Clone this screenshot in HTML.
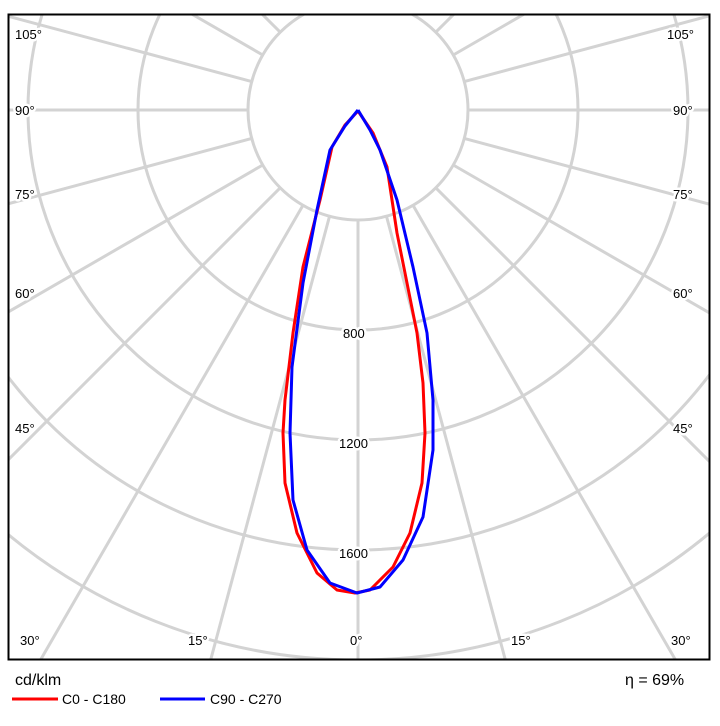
<!DOCTYPE html>
<html><head><meta charset="utf-8"><style>
html,body{margin:0;padding:0;background:#fff;width:720px;height:726px;overflow:hidden}
svg{display:block}
text{font-family:"Liberation Sans",sans-serif}
</style></head><body>
<svg width="720" height="726" viewBox="0 0 720 726" xmlns="http://www.w3.org/2000/svg">
<defs><clipPath id="c"><rect x="9" y="15" width="700" height="644"/></clipPath></defs>
<g clip-path="url(#c)" stroke="#d3d3d3" stroke-width="3" fill="none">
<circle cx="358" cy="110" r="110"/>
<circle cx="358" cy="110" r="220"/>
<circle cx="358" cy="110" r="330"/>
<circle cx="358" cy="110" r="440"/>
<circle cx="358" cy="110" r="550"/>
<circle cx="358" cy="110" r="660"/>
<line x1="358" y1="220" x2="358" y2="900"/>
<line x1="358" y1="220" x2="358" y2="900" transform="rotate(15 358 110)"/>
<line x1="358" y1="220" x2="358" y2="900" transform="rotate(30 358 110)"/>
<line x1="358" y1="220" x2="358" y2="900" transform="rotate(45 358 110)"/>
<line x1="358" y1="220" x2="358" y2="900" transform="rotate(60 358 110)"/>
<line x1="358" y1="220" x2="358" y2="900" transform="rotate(75 358 110)"/>
<line x1="358" y1="220" x2="358" y2="900" transform="rotate(90 358 110)"/>
<line x1="358" y1="220" x2="358" y2="900" transform="rotate(105 358 110)"/>
<line x1="358" y1="220" x2="358" y2="900" transform="rotate(120 358 110)"/>
<line x1="358" y1="220" x2="358" y2="900" transform="rotate(135 358 110)"/>
<line x1="358" y1="220" x2="358" y2="900" transform="rotate(150 358 110)"/>
<line x1="358" y1="220" x2="358" y2="900" transform="rotate(165 358 110)"/>
<line x1="358" y1="220" x2="358" y2="900" transform="rotate(180 358 110)"/>
<line x1="358" y1="220" x2="358" y2="900" transform="rotate(-15 358 110)"/>
<line x1="358" y1="220" x2="358" y2="900" transform="rotate(-30 358 110)"/>
<line x1="358" y1="220" x2="358" y2="900" transform="rotate(-45 358 110)"/>
<line x1="358" y1="220" x2="358" y2="900" transform="rotate(-60 358 110)"/>
<line x1="358" y1="220" x2="358" y2="900" transform="rotate(-75 358 110)"/>
<line x1="358" y1="220" x2="358" y2="900" transform="rotate(-90 358 110)"/>
<line x1="358" y1="220" x2="358" y2="900" transform="rotate(-105 358 110)"/>
<line x1="358" y1="220" x2="358" y2="900" transform="rotate(-120 358 110)"/>
<line x1="358" y1="220" x2="358" y2="900" transform="rotate(-135 358 110)"/>
<line x1="358" y1="220" x2="358" y2="900" transform="rotate(-150 358 110)"/>
<line x1="358" y1="220" x2="358" y2="900" transform="rotate(-165 358 110)"/>
</g>
<g font-size="13" fill="#000" stroke="#fff" stroke-width="5" paint-order="stroke" stroke-linejoin="round">
<text x="343" y="338">800</text>
<text x="339" y="448">1200</text>
<text x="339" y="558">1600</text>
<text x="15" y="39">105°</text><text x="15" y="115">90°</text><text x="15" y="199">75°</text>
<text x="15" y="298">60°</text><text x="15" y="433">45°</text><text x="20" y="645">30°</text>
<text x="188" y="645">15°</text><text x="350" y="645">0°</text><text x="511" y="645">15°</text>
<text x="671" y="645">30°</text>
<text x="667" y="39">105°</text><text x="673" y="115">90°</text><text x="673" y="199">75°</text>
<text x="673" y="298">60°</text><text x="673" y="433">45°</text>
</g>
<g fill="none" stroke-width="3" stroke-linejoin="round">
<polyline stroke="#ff0000" points="358,111 345,125 332,147 320,200 303,267 293,333 285,400 283,433 285,483 297,533 317,573 337,590 355,593 370,590 393,567 410,533 422,483 425,433 423,383 417,333 407,283 397,233 387,167 373,133 358,111"/>
<polyline stroke="#0000ff" points="358,110 345,126 330,150 317,210 303,283 292,367 290,433 293,500 307,550 330,583 357,593 380,587 403,560 423,517 433,450 433,400 427,333 413,267 397,200 380,150 370,130 358,110"/>
</g>
<rect x="8.5" y="14.5" width="701" height="645" fill="none" stroke="#000" stroke-width="2"/>
<text x="15" y="685" font-size="16">cd/klm</text>
<text x="625" y="685" font-size="16">η = 69%</text>
<line x1="12" y1="699" x2="58" y2="699" stroke="#ff0000" stroke-width="3"/>
<text x="62" y="704" font-size="14">C0 - C180</text>
<line x1="160" y1="699" x2="205" y2="699" stroke="#0000ff" stroke-width="3"/>
<text x="210" y="704" font-size="14">C90 - C270</text>
</svg>
</body></html>
